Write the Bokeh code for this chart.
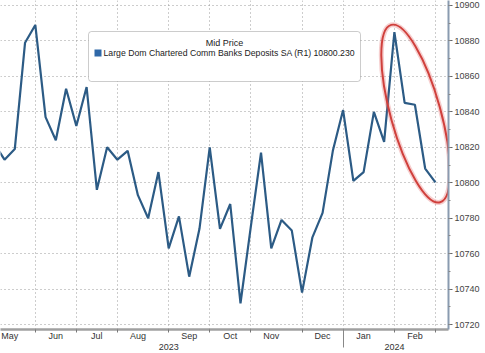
from datetime import datetime, timedelta
from bokeh.plotting import figure
from bokeh.models import (Range1d, FixedTicker, SingleIntervalTicker, Label,
                          BoxAnnotation, DatetimeAxis, ColumnDataSource)
from bokeh.embed import file_html
from bokeh.resources import INLINE

# ---- data (weekly, Wednesdays) ----
start_date = datetime(2023, 5, 10)
values = [10822, 10813, 10819, 10879, 10889, 10837, 10824, 10853, 10832, 10854,
          10796, 10820, 10813, 10818, 10793, 10780, 10806, 10763, 10781, 10747,
          10774, 10820, 10774, 10788, 10732, 10775, 10817, 10763, 10779, 10773,
          10738, 10769, 10783, 10818, 10841, 10801, 10806, 10840, 10823, 10885,
          10845, 10844, 10808, 10800.23]
dates = [start_date + timedelta(weeks=i) for i in range(len(values))]
month_labels = ["May", "Jun", "Jul", "Aug", "Sep", "Oct", "Nov", "Dec", "Jan", "Feb"]
month_label_dates = [datetime(2023, 5, 20, 12), datetime(2023, 6, 21), datetime(2023, 7, 19),
                     datetime(2023, 8, 16), datetime(2023, 9, 20), datetime(2023, 10, 18),
                     datetime(2023, 11, 15), datetime(2023, 12, 20), datetime(2024, 1, 17),
                     datetime(2024, 2, 21)]
grid_dates = [datetime(2023, 6, 7), datetime(2023, 7, 5), datetime(2023, 8, 2),
              datetime(2023, 9, 6), datetime(2023, 10, 4), datetime(2023, 11, 1),
              datetime(2023, 12, 6), datetime(2024, 1, 3), datetime(2024, 2, 7),
              datetime(2024, 3, 6)]
year_labels = ["2023", "2024"]
year_label_dates = [datetime(2023, 9, 6), datetime(2024, 2, 7)]
year_boundary = datetime(2024, 1, 3)
last_value = values[-1]
series_name = "Large Dom Chartered Comm Banks Deposits SA  (R1) 10800.230"
legend_title = "Mid Price"
ellipse_center = (datetime(2024, 2, 21, 12), 10839)

Y0, Y1 = 10717.2, 10902.8

def ms(d):
    return (d - datetime(1970, 1, 1)).total_seconds() * 1000.0

FONT = "Liberation Sans"
LINE = "#2c5b85"

p = figure(width=485, height=353, x_axis_type="datetime", y_axis_location="right",
           output_backend="svg", toolbar_location=None,
           x_range=Range1d(datetime(2023, 5, 14, 6), datetime(2024, 3, 14, 22)),
           y_range=Range1d(Y0, Y1),
           min_border_left=0, min_border_top=0, min_border_bottom=24, min_border_right=37)
p.outline_line_color = None
p.background_fill_color = "white"
p.border_fill_color = "white"

src = ColumnDataSource(dict(x=dates, y=values))
p.line("x", "y", source=src, line_color=LINE, line_width=2.2)

# red ellipse with soft glow
p.ellipse(x=[ellipse_center[0]], y=[ellipse_center[1]], width=184, height=50,
          width_units="screen", height_units="screen", angle=1.84,
          fill_color=None, line_color="#e06060", line_alpha=0.3, line_width=5)
p.ellipse(x=[ellipse_center[0]], y=[ellipse_center[1]], width=184, height=50,
          width_units="screen", height_units="screen", angle=1.84,
          fill_color=None, line_color="#d0403c", line_width=2)

# x axis: months
xt = FixedTicker(ticks=[ms(d) for d in month_label_dates],
                 minor_ticks=[ms(d) for d in grid_dates])
p.xaxis.ticker = xt
p.xaxis.major_label_overrides = {ms(d): lab for d, lab in zip(month_label_dates, month_labels)}
p.xaxis.major_tick_out = 0
p.xaxis.major_tick_in = 0
p.xaxis.minor_tick_out = 3
p.xaxis.minor_tick_in = 0
p.xaxis.minor_tick_line_color = "#777777"
p.xaxis.axis_line_color = "#a0a0a0"
p.xaxis.axis_line_width = 2.5
p.xaxis.major_label_standoff = -2
p.xaxis.major_label_text_font = FONT
p.xaxis.major_label_text_font_size = "9px"
p.xaxis.major_label_text_color = "#333333"
p.xgrid.ticker = FixedTicker(ticks=[ms(d) for d in grid_dates])

# second x axis: years, with boundary mark
yax = DatetimeAxis(ticker=FixedTicker(ticks=[ms(d) for d in year_label_dates],
                                      minor_ticks=[ms(year_boundary)]))
yax.major_label_overrides = {ms(d): lab for d, lab in zip(year_label_dates, year_labels)}
yax.axis_line_color = None
yax.major_tick_out = 0
yax.major_tick_in = 0
yax.minor_tick_in = 14
yax.minor_tick_out = 4
yax.minor_tick_line_color = "#888888"
yax.major_label_standoff = -4
yax.major_label_text_font = FONT
yax.major_label_text_font_size = "9px"
yax.major_label_text_color = "#333333"
p.add_layout(yax, "below")

# y axis
p.yaxis.ticker = SingleIntervalTicker(interval=20, num_minor_ticks=2)
p.yaxis.major_tick_out = 4
p.yaxis.major_tick_in = 0
p.yaxis.minor_tick_out = 2
p.yaxis.minor_tick_in = 0
p.yaxis.axis_line_color = "#8a9bb0"
p.yaxis.axis_line_width = 2
p.yaxis.major_tick_line_color = "#666666"
p.yaxis.minor_tick_line_color = "#888888"
p.yaxis.major_label_standoff = 2
p.yaxis.major_label_text_font = FONT
p.yaxis.major_label_text_font_size = "9px"
p.yaxis.major_label_text_color = "#444444"

for g in (p.xgrid, p.ygrid):
    g.grid_line_color = "#9a9a9a"
    g.grid_line_dash = "1 3"
    g.grid_line_width = 1

# legend box
p.add_layout(BoxAnnotation(left=88, right=360, top=298, bottom=248,
                           left_units="screen", right_units="screen",
                           top_units="screen", bottom_units="screen",
                           fill_color="white", fill_alpha=1, line_color="#555555",
                           line_width=1, border_radius=3))
p.add_layout(Label(x=224, y=287, x_units="screen", y_units="screen", text=legend_title,
                   text_align="center", text_baseline="middle", text_font=FONT,
                   text_font_size="9px", text_color="#222222"))
p.add_layout(BoxAnnotation(left=94, right=101, top=280, bottom=273,
                           left_units="screen", right_units="screen",
                           top_units="screen", bottom_units="screen",
                           fill_color="#2f68a8", fill_alpha=1, line_color=None))
p.add_layout(Label(x=103, y=276.5, x_units="screen", y_units="screen", text=series_name,
                   text_align="left", text_baseline="middle", text_font=FONT,
                   text_font_size="8.7px", text_color="#222222"))

# last value tag
p.add_layout(Label(x=452, y=last_value, x_units="screen", text=f"{last_value:.2f}",
                   text_align="left", text_baseline="middle", text_font=FONT,
                   text_font_size="9.5px", text_color="white",
                   background_fill_color="#2f6db5", background_fill_alpha=1,
                   padding=2))

open("out.html", "w").write(file_html(p, INLINE))
